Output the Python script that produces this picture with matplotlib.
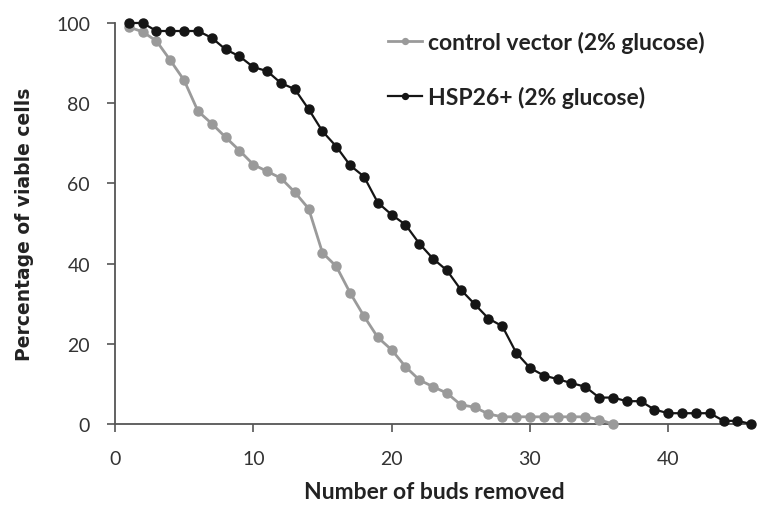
import numpy as np
import matplotlib
matplotlib.use("Agg")
import matplotlib.pyplot as plt

# buds removed (x) and percentage viable (y)
buds_hsp = list(range(1, 47))
viable_hsp = [100, 100, 98, 98, 98, 98, 96.3, 93.4, 91.7, 89,
              88, 85, 83.5, 78.5, 73, 69.2, 64.5, 61.7, 55.2, 52.2,
              49.7, 45, 41.2, 38.3, 33.5, 29.9, 26.3, 24.4, 17.8, 14,
              12.1, 11.2, 10.2, 9.3, 6.6, 6.6, 5.7, 5.7, 3.6, 2.7,
              2.7, 2.7, 2.7, 0.8, 0.8, 0]

buds_ctrl = list(range(1, 37))
viable_ctrl = [99, 97.8, 95.5, 90.7, 85.7, 78, 74.9, 71.5, 68.2, 64.7,
               63, 61.3, 57.8, 53.7, 42.7, 39.3, 32.7, 26.9, 21.6, 18.5,
               14.3, 11, 9.3, 7.7, 4.8, 4.2, 2.5, 1.8, 1.8, 1.8,
               1.8, 1.8, 1.8, 1.8, 1.1, 0]

xticks = [0, 10, 20, 30, 40]
yticks = [0, 20, 40, 60, 80, 100]

plt.rcParams['font.family'] = ['Lato', 'DejaVu Sans']

fig = plt.figure(figsize=(7.59, 5.06), dpi=100)
ax = fig.add_axes([0.1515, 0.160, 0.842, 0.7926])

ax.plot(buds_ctrl, viable_ctrl, color='#9a9a9a', lw=2.0, marker='o', ms=6.5,
        label='control vector (2% glucose)', clip_on=False, zorder=3)
ax.plot(buds_hsp, viable_hsp, color='#151515', lw=1.6, marker='o', ms=6.5,
        label='HSP26+ (2% glucose)', clip_on=False, zorder=4)

ax.set_xlim(0, 46.2)
ax.set_ylim(0, 100)
ax.set_xticks(xticks)
ax.set_yticks(yticks)
ax.tick_params(axis='both', labelsize=14, color='#555555', length=6, width=1.2,
               labelcolor='#333333')
ax.tick_params(axis='x', pad=13)
ax.tick_params(axis='y', pad=12)
for s in ['top', 'right']:
    ax.spines[s].set_visible(False)
for s in ['left', 'bottom']:
    ax.spines[s].set_color('#555555')
    ax.spines[s].set_linewidth(1.3)

ax.set_xlabel('Number of buds removed', fontsize=16.5, fontweight='bold',
              color='#222222', labelpad=10)
ax.set_ylabel('Percentage of viable cells', fontsize=13.5, fontweight='bold',
              family='DejaVu Sans', color='#222222', labelpad=16)

leg = ax.legend(loc='upper left', bbox_to_anchor=(0.427, 0.98), frameon=False,
                fontsize=16.5, handlelength=1.5, handletextpad=0.25,
                labelspacing=1.42, borderaxespad=0, borderpad=0,
                markerscale=0.65)
for t in leg.get_texts():
    t.set_fontweight('bold')
    t.set_color('#222222')

fig.savefig('out.png', dpi=100)
